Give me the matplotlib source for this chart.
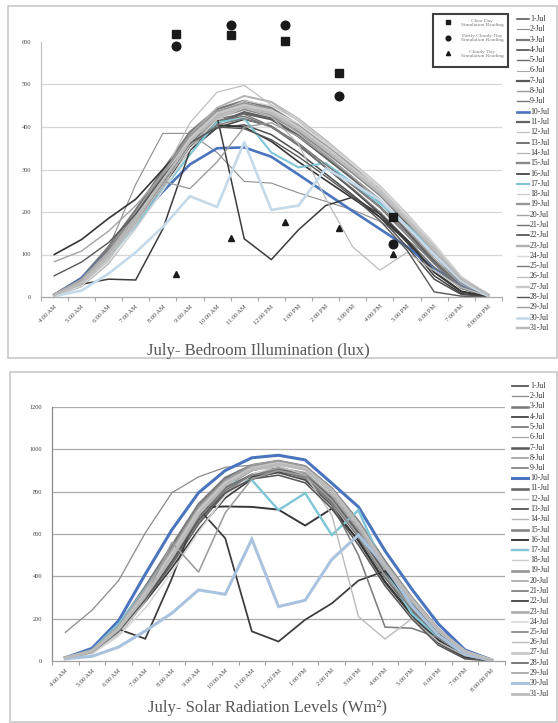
import matplotlib
matplotlib.use("Agg")
import matplotlib.pyplot as plt
from matplotlib.lines import Line2D
from matplotlib.patches import Rectangle
import numpy as np

W, H = 558, 723
SERIF = ["Liberation Serif", "DejaVu Serif"]

times = ["4:00 AM", "5:00 AM", "6:00 AM", "7:00 AM", "8:00 AM", "9:00 AM",
         "10:00 AM", "11:00 AM", "12:00 PM", "1:00 PM", "2:00 PM", "3:00 PM",
         "4:00 PM", "5:00 PM", "6:00 PM", "7:00 PM", "8:00:00 PM"]
days = ["%d-Jul" % d for d in range(1, 32)]

# ---- July bedroom illumination (lux), 4 AM .. 8 PM ----
lux_01 = [5, 38, 100, 182, 275, 365, 425, 445, 428, 390, 342, 292, 240, 172, 98, 33, 3]
lux_02 = [3, 30, 115, 265, 385, 385, 340, 272, 268, 245, 225, 205, 178, 135, 85, 30, 3]
lux_03 = [6, 45, 118, 205, 298, 388, 442, 462, 445, 405, 352, 300, 248, 183, 112, 42, 5]
lux_04 = [4, 35, 98, 172, 262, 345, 398, 418, 402, 358, 305, 252, 196, 128, 50, 8, 1]
lux_05 = [5, 42, 110, 192, 286, 374, 426, 447, 432, 396, 350, 302, 252, 188, 116, 44, 5]
lux_06 = [2, 24, 78, 162, 255, 368, 445, 472, 458, 414, 362, 305, 250, 180, 108, 38, 4]
lux_07 = [5, 38, 102, 182, 272, 360, 412, 432, 418, 378, 328, 278, 226, 160, 88, 28, 3]
lux_08 = [3, 30, 92, 176, 272, 372, 432, 456, 442, 404, 358, 308, 258, 188, 112, 40, 4]
lux_09 = [5, 40, 106, 190, 282, 375, 420, 430, 402, 362, 312, 265, 214, 150, 84, 27, 3]
lux_10 = [4, 44, 108, 178, 248, 312, 350, 352, 330, 288, 245, 202, 160, 118, 68, 28, 3]
lux_11 = [4, 35, 96, 176, 266, 356, 410, 435, 420, 380, 330, 280, 225, 155, 80, 22, 2]
lux_12 = [3, 28, 86, 176, 286, 410, 482, 498, 452, 415, 366, 312, 256, 190, 120, 45, 5]
lux_13 = [5, 40, 104, 185, 270, 354, 398, 405, 382, 340, 290, 240, 188, 118, 42, 6, 1]
lux_14 = [4, 33, 95, 180, 282, 382, 446, 474, 460, 420, 370, 316, 262, 196, 122, 46, 5]
lux_15 = [5, 38, 100, 185, 276, 366, 422, 442, 426, 390, 342, 292, 240, 176, 106, 38, 4]
lux_16 = [100, 135, 185, 230, 300, 370, 405, 400, 366, 318, 275, 232, 188, 132, 58, 12, 1]
lux_17 = [5, 36, 92, 168, 252, 335, 412, 420, 340, 305, 315, 268, 220, 168, 108, 40, 3]
lux_18 = [3, 30, 90, 170, 266, 366, 432, 462, 450, 416, 366, 316, 262, 196, 126, 48, 5]
lux_19 = [5, 40, 108, 196, 290, 380, 436, 456, 440, 402, 350, 300, 246, 180, 108, 40, 4]
lux_20 = [83, 108, 155, 215, 288, 368, 428, 448, 430, 386, 336, 282, 226, 160, 90, 30, 3]
lux_21 = [5, 42, 110, 195, 285, 370, 415, 425, 400, 356, 305, 255, 200, 135, 70, 20, 2]
lux_22 = [6, 30, 42, 40, 160, 345, 425, 137, 88, 158, 215, 235, 195, 135, 60, 14, 1]
lux_23 = [5, 40, 105, 190, 282, 372, 428, 450, 436, 398, 350, 300, 248, 184, 112, 42, 5]
lux_24 = [3, 26, 82, 160, 250, 348, 418, 446, 440, 408, 362, 312, 258, 192, 124, 48, 6]
lux_25 = [4, 36, 98, 178, 268, 356, 405, 420, 400, 360, 312, 262, 210, 145, 78, 24, 2]
lux_26 = [3, 30, 92, 172, 262, 356, 420, 445, 425, 360, 232, 118, 63, 105, 62, 22, 2]
lux_27 = [4, 34, 98, 182, 278, 372, 432, 452, 438, 400, 352, 302, 250, 186, 114, 44, 5]
lux_28 = [50, 82, 128, 195, 282, 362, 400, 396, 370, 330, 284, 236, 180, 110, 12, 2, 0]
lux_29 = [5, 38, 100, 182, 272, 255, 318, 400, 410, 378, 332, 282, 230, 166, 98, 34, 3]
lux_30 = [2, 15, 55, 105, 165, 237, 212, 365, 205, 215, 302, 268, 228, 165, 100, 38, 2]
lux_31 = [4, 35, 98, 180, 274, 366, 424, 446, 432, 394, 346, 296, 244, 180, 110, 42, 5]

# ---- July solar radiation (W/m2), 4 AM .. 8 PM ----
rad_01 = [14, 48, 160, 325, 505, 700, 830, 900, 930, 905, 800, 640, 450, 285, 140, 40, 3]
rad_02 = [135, 240, 380, 605, 795, 870, 915, 925, 905, 860, 770, 620, 430, 275, 135, 40, 3]
rad_03 = [16, 52, 170, 350, 545, 740, 865, 925, 945, 920, 815, 660, 470, 300, 150, 45, 4]
rad_04 = [12, 40, 140, 280, 440, 620, 770, 860, 895, 870, 760, 590, 395, 235, 100, 20, 1]
rad_05 = [15, 46, 152, 312, 492, 692, 822, 900, 930, 905, 795, 635, 445, 285, 142, 42, 3]
rad_06 = [10, 35, 120, 280, 480, 700, 850, 920, 942, 915, 810, 650, 460, 295, 150, 48, 4]
rad_07 = [15, 44, 148, 300, 470, 660, 800, 880, 910, 885, 775, 615, 425, 270, 130, 38, 3]
rad_08 = [12, 40, 135, 300, 500, 715, 848, 915, 938, 912, 808, 648, 455, 292, 148, 46, 4]
rad_09 = [15, 46, 155, 318, 498, 695, 818, 880, 900, 868, 750, 585, 395, 240, 112, 32, 2]
rad_10 = [15, 60, 190, 410, 620, 795, 900, 960, 972, 950, 840, 728, 520, 340, 175, 52, 5]
rad_11 = [14, 42, 145, 290, 460, 650, 795, 875, 905, 880, 770, 605, 410, 250, 115, 32, 2]
rad_12 = [11, 38, 128, 290, 488, 706, 850, 918, 940, 915, 810, 652, 462, 298, 150, 48, 4]
rad_13 = [14, 44, 150, 310, 488, 682, 805, 870, 890, 855, 735, 565, 370, 215, 85, 15, 1]
rad_14 = [12, 40, 138, 302, 495, 708, 855, 925, 945, 920, 815, 655, 462, 295, 148, 46, 4]
rad_15 = [15, 46, 152, 314, 494, 694, 830, 905, 935, 910, 805, 645, 452, 290, 145, 44, 4]
rad_16 = [16, 50, 165, 330, 510, 725, 730, 728, 715, 640, 720, 570, 375, 222, 98, 22, 1]
rad_17 = [15, 52, 175, 340, 525, 700, 840, 855, 713, 793, 595, 713, 430, 225, 112, 32, 3]
rad_18 = [11, 37, 126, 286, 484, 702, 846, 918, 940, 915, 812, 655, 465, 300, 152, 48, 4]
rad_19 = [16, 50, 162, 335, 525, 725, 852, 920, 942, 918, 812, 652, 460, 295, 148, 46, 4]
rad_20 = [14, 46, 150, 300, 470, 660, 800, 880, 912, 890, 780, 620, 430, 272, 132, 38, 3]
rad_21 = [15, 47, 156, 318, 498, 694, 818, 882, 900, 870, 755, 590, 400, 245, 115, 33, 2]
rad_22 = [12, 45, 150, 105, 390, 720, 580, 140, 92, 195, 272, 380, 425, 268, 128, 36, 2]
rad_23 = [15, 48, 158, 330, 515, 715, 845, 912, 935, 910, 805, 645, 452, 290, 145, 44, 4]
rad_24 = [10, 34, 118, 250, 420, 610, 780, 880, 925, 905, 800, 640, 450, 290, 148, 48, 5]
rad_25 = [14, 44, 148, 305, 480, 676, 808, 878, 900, 868, 742, 500, 160, 155, 110, 32, 2]
rad_26 = [12, 40, 138, 296, 484, 690, 828, 900, 920, 880, 690, 210, 104, 200, 90, 25, 2]
rad_27 = [14, 45, 150, 318, 505, 708, 840, 910, 935, 910, 805, 645, 452, 290, 145, 44, 4]
rad_28 = [13, 42, 140, 290, 470, 665, 795, 860, 878, 842, 720, 548, 355, 200, 75, 10, 0]
rad_29 = [14, 44, 148, 300, 560, 420, 700, 860, 900, 875, 760, 592, 402, 252, 124, 38, 3]
rad_30 = [10, 22, 66, 142, 226, 336, 315, 575, 257, 287, 480, 595, 450, 262, 122, 32, 2]
rad_31 = [14, 45, 150, 310, 492, 695, 830, 905, 930, 905, 800, 640, 448, 288, 144, 43, 4]

lux_series = [lux_01, lux_02, lux_03, lux_04, lux_05, lux_06, lux_07, lux_08, lux_09, lux_10,
              lux_11, lux_12, lux_13, lux_14, lux_15, lux_16, lux_17, lux_18, lux_19, lux_20,
              lux_21, lux_22, lux_23, lux_24, lux_25, lux_26, lux_27, lux_28, lux_29, lux_30, lux_31]
rad_series = [rad_01, rad_02, rad_03, rad_04, rad_05, rad_06, rad_07, rad_08, rad_09, rad_10,
              rad_11, rad_12, rad_13, rad_14, rad_15, rad_16, rad_17, rad_18, rad_19, rad_20,
              rad_21, rad_22, rad_23, rad_24, rad_25, rad_26, rad_27, rad_28, rad_29, rad_30, rad_31]

# simulation readings (half-hour marks between categories)
reading_hours = [8.5, 10.5, 12.5, 14.5, 16.5]
clear_day = [618, 616, 602, 527, 188]
partly_cloudy = [590, 640, 640, 474, 124]
cloudy_day = [53, 138, 177, 162, 101]

# styles
line_colors = ['#505050', '#8c8c8c', '#7a7a7a', '#3f3f3f', '#6a6a6a', '#a8a8a8', '#5a5a5a', '#9a9a9a',
               '#767676', '#4a74bd', '#636363', '#c0c0c0', '#4e4e4e', '#b4b4b4', '#8a8a8a', '#363636',
               '#7fc6d6', '#cdcdcd', '#979797', '#a3a3a3', '#727272', '#3c3c3c', '#b0b0b0', '#d8d8d8',
               '#7d7d7d', '#bcbcbc', '#c8c8c8', '#575757', '#9c9c9c', '#c4daea', '#bababa']
line_widths = [1.1, 0.8, 1.6, 1.1, 1.0, 0.8, 1.6, 1.0, 1.0, 1.9,
               1.6, 0.9, 1.1, 0.9, 1.7, 1.2, 1.5, 0.9, 1.7, 1.0,
               1.0, 1.1, 1.7, 1.0, 1.0, 0.9, 1.7, 1.0, 1.0, 1.9, 1.7]
rad_colors = list(line_colors)
rad_colors[29] = '#a9c3de'
rad_widths = [w * 1.15 for w in line_widths]


def fx(px):
    return px / W


def fy(py):
    return 1 - py / H


fig = plt.figure(figsize=(W / 100, H / 100), dpi=100)
fig.patch.set_facecolor('white')

# outer frames of both charts
for (x0, y0, x1, y1) in [(8, 6, 557, 358), (10, 372, 557, 722)]:
    fig.add_artist(Rectangle((fx(x0), fy(y1)), fx(x1) - fx(x0), fy(y0) - fy(y1),
                             transform=fig.transFigure, fill=False,
                             edgecolor='#c8c8c8', lw=1.2))


def setup(ax, ymax, ystep, grid_vals, grid_color, left_color, base_color):
    ax.set_xlim(-0.5, len(times) - 0.5)
    ax.set_ylim(0, ymax)
    x = np.arange(len(times))
    ax.set_xticks(x)
    ax.set_xticklabels(times, rotation=45, ha='right', va='top', rotation_mode='anchor',
                       fontsize=4.6, family=SERIF, color='#444444')
    ax.tick_params(axis='x', which='major', length=0, pad=5)
    ax.set_xticks(np.arange(-0.5, len(times), 1), minor=True)
    ax.tick_params(axis='x', which='minor', length=3, color=base_color, width=0.8)
    yt = np.arange(0, ymax + 1, ystep)
    ax.set_yticks(yt)
    ax.set_yticklabels([str(int(v)) for v in yt], fontsize=4.6, family=SERIF, color='#444444')
    ax.tick_params(axis='y', length=0, pad=7)
    for v in grid_vals:
        ax.axhline(v, color=grid_color, lw=0.9, zorder=0)
    for s in ['top', 'right']:
        ax.spines[s].set_visible(False)
    ax.spines['left'].set_color(left_color)
    ax.spines['left'].set_linewidth(0.9)
    ax.spines['bottom'].set_color(base_color)
    ax.spines['bottom'].set_linewidth(0.9)
    ax.set_facecolor('none')


# ---------------- top chart ----------------
ax1 = fig.add_axes([fx(40.7), fy(297), fx(502) - fx(40.7), fy(42) - fy(297)])
setup(ax1, 600, 100, [100, 200, 300, 400, 500], '#d6d6d6', '#c4c4c4', '#a8a8a8')
x = np.arange(len(times))
for i, s in enumerate(lux_series):
    ax1.plot(x, s, color=line_colors[i], lw=line_widths[i], solid_joinstyle='miter', zorder=2)
mx = np.array(reading_hours) - 4
ax1.plot(mx, clear_day, 's', color='#1a1a1a', ms=5.5, clip_on=False, zorder=5)
ax1.plot(mx, partly_cloudy, 'o', color='#1a1a1a', ms=6.2, clip_on=False, zorder=5)
ax1.plot(mx, cloudy_day, '^', color='#1a1a1a', ms=5, clip_on=False, zorder=5)
fig.text(fx(258), fy(351), "July- Bedroom Illumination (lux)", ha='center', va='center',
         fontsize=12, family=SERIF, color='#555555')

# reading legend box
fig.add_artist(Rectangle((fx(433), fy(67)), fx(508) - fx(433), fy(14) - fy(67),
                         transform=fig.transFigure, facecolor='white',
                         edgecolor='#404040', lw=1.5, zorder=6))
leg_items = [('s', 3.0, "Clear Day\nSimulation Reading"),
             ('o', 3.4, "Partly Cloudy Day\nSimulation Reading"),
             ('^', 3.0, "Cloudy Day\nSimulation Reading")]
for k, (m, msz, label) in enumerate(leg_items):
    yy = 22 + k * 15.5
    fig.add_artist(Line2D([fx(448)], [fy(yy)], marker=m, color='#1a1a1a', ms=msz,
                          linestyle='none', transform=fig.transFigure, zorder=7))
    fig.text(fx(482), fy(yy + 1), label, ha='center', va='center', fontsize=3.9,
             family=SERIF, color='#777777', linespacing=1.0, zorder=7)

# series legend (top)
for i, d in enumerate(days):
    yy = 19 + i * 10.3
    fig.add_artist(Line2D([fx(517), fx(529)], [fy(yy), fy(yy)], color=line_colors[i],
                          lw=line_widths[i], transform=fig.transFigure))
    fig.text(fx(530), fy(yy), d, ha='left', va='center', fontsize=5.6, family=SERIF,
             color='#333333')

# ---------------- bottom chart ----------------
ax2 = fig.add_axes([fx(52), fy(661), fx(505) - fx(52), fy(407) - fy(661)])
setup(ax2, 1200, 200, [200, 400, 600, 800, 1000, 1200], '#ababab', '#8a8a8a', '#a0a0a0')
for i, s in enumerate(rad_series):
    ax2.plot(x, s, color=rad_colors[i], lw=rad_widths[i], solid_joinstyle='miter', zorder=2)
fig.text(fx(268), fy(708), "July- Solar Radiation Levels (Wm²)", ha='center', va='center',
         fontsize=12, family=SERIF, color='#555555')

for i, d in enumerate(days):
    yy = 386 + i * 10.25
    fig.add_artist(Line2D([fx(512), fx(528)], [fy(yy), fy(yy)], color=rad_colors[i],
                          lw=rad_widths[i], transform=fig.transFigure))
    fig.text(fx(530), fy(yy), d, ha='left', va='center', fontsize=5.6, family=SERIF,
             color='#333333')

fig.savefig("out.png", dpi=100, facecolor='white')
